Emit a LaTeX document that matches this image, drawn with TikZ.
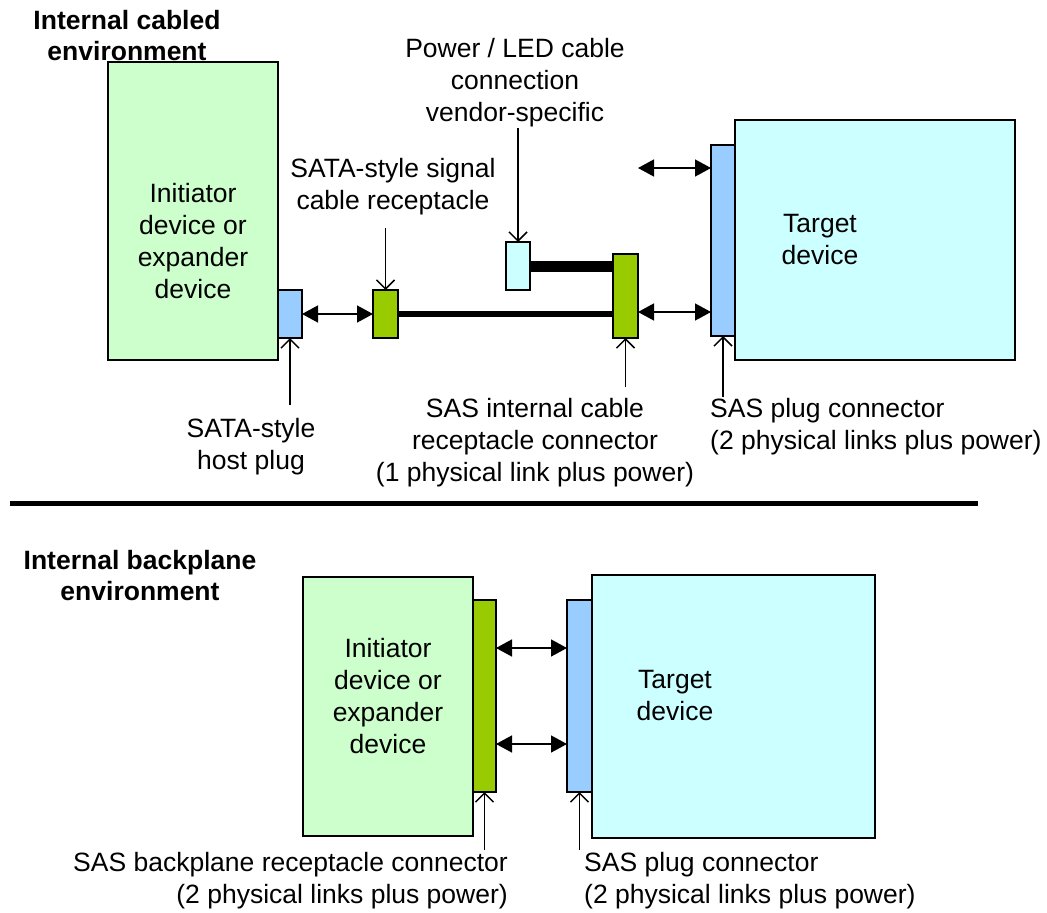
\documentclass[tikz,border=0pt]{standalone}
\usepackage{fontspec}
\setmainfont{Liberation Sans}
\usetikzlibrary{arrows.meta}
\definecolor{initg}{HTML}{CCFFCC}
\definecolor{targc}{HTML}{CCFFFF}
\definecolor{plugb}{HTML}{99CCFF}
\definecolor{recg}{HTML}{99CC00}
\begin{document}
\begin{tikzpicture}[x=1pt,y=-1pt,
  blk/.style={draw=black,line width=1.5pt,inner sep=0pt,outer sep=0pt,anchor=north west},
  lbl/.style={inner sep=0pt,align=center,font=\fontsize{26.5}{32}\selectfont},
  ttl/.style={inner sep=0pt,align=center,font=\fontsize{26.5}{31}\selectfont\bfseries},
  dbl/.style={line width=1.5pt,{Triangle[length=16pt,width=17pt]}-{Triangle[length=16pt,width=17pt]}},
  ptr/.style={line width=1.5pt,-{Straight Barb[length=9pt,width=18pt]}},
]
\useasboundingbox (0,0) rectangle (1047,913);

% ---------- top: cabled ----------
\node[blk,fill=initg,minimum width=170pt,minimum height=298pt] (init1) at (108,62) {};
\node[blk,fill=targc,minimum width=280pt,minimum height=240pt] (target1) at (735,120) {};
\node[blk,fill=plugb,minimum width=24pt,minimum height=48pt] (hostplug) at (278,290) {};
\node[blk,fill=recg,minimum width=25pt,minimum height=48pt] (satarec) at (373,290) {};
\node[blk,fill=recg,minimum width=25pt,minimum height=84pt] (sasrec) at (613,254) {};
\node[blk,fill=targc,minimum width=24pt,minimum height=48pt] (pwr) at (506,242) {};
\node[blk,fill=plugb,minimum width=24pt,minimum height=191pt] (sasplug) at (711,145) {};

\draw[line width=6pt] (satarec.east) -- (satarec.east -| sasrec.west);
\draw[line width=11pt] (pwr.east) -- (pwr.east -| sasrec.west);
\draw[dbl] (hostplug.east) -- (satarec.west);
\coordinate (r1) at (0,312);
\draw[dbl] (sasrec.east |- r1) -- (sasplug.west |- r1);
\coordinate (u1) at (638,168);
\draw[dbl] (u1) -- (sasplug.west |- u1);

\node[ttl,anchor=north] (title1) at (127,10) {Internal cabled\\environment};
\node[lbl,anchor=north] (pwrlbl) at (515,38) {Power / LED cable\\connection\\vendor-specific};
\node[lbl,anchor=north] (satalbl) at (393,158) {SATA-style signal\\cable receptacle};
\node[lbl,anchor=north] (init1t) at (193,183) {Initiator\\device or\\expander\\device};
\node[lbl,anchor=north] (target1t) at (820,214) {Target\\device};
\node[lbl,anchor=north] (hostlbl) at (251,418) {SATA-style\\host plug};
\node[lbl,anchor=north] (sasintlbl) at (535,398) {SAS internal cable\\receptacle connector\\(1 physical link plus power)};
\node[lbl,anchor=north west,align=left] (plug1lbl) at (710,398) {SAS plug connector\\(2 physical links plus power)};

\coordinate (p1) at (0,228);
\draw[ptr] (satarec.north |- p1) -- (satarec.north);
\coordinate (p2) at (0,128);
\draw[ptr] (pwr.north |- p2) -- (pwr.north);
\coordinate (p3) at (0,405);
\draw[ptr] (hostplug.south |- p3) -- (hostplug.south);
\coordinate (p4) at (0,387);
\draw[ptr] (sasrec.south |- p4) -- (sasrec.south);
\coordinate (p5) at (0,397);
\draw[ptr] (sasplug.south |- p5) -- (sasplug.south);

% ---------- separator ----------
\coordinate (s1) at (10,503);
\coordinate (s2) at (978,503);
\draw[line width=5pt] (s1) -- (s2);

% ---------- bottom: backplane ----------
\node[blk,fill=initg,minimum width=170pt,minimum height=259pt] (init2) at (303,577) {};
\node[blk,fill=targc,minimum width=283pt,minimum height=263pt] (target2) at (592,575) {};
\node[blk,fill=recg,minimum width=23pt,minimum height=192pt] (bprec) at (473,600) {};
\node[blk,fill=plugb,minimum width=25pt,minimum height=192pt] (plug2) at (567,600) {};

\coordinate (b1) at (0,648);
\coordinate (b2) at (0,744);
\draw[dbl] (bprec.east |- b1) -- (plug2.west |- b1);
\draw[dbl] (bprec.east |- b2) -- (plug2.west |- b2);

\node[ttl,anchor=north] (title2) at (140,550) {Internal backplane\\environment};
\node[lbl,anchor=north] (init2t) at (388,638) {Initiator\\device or\\expander\\device};
\node[lbl,anchor=north] (target2t) at (675,670) {Target\\device};
\node[lbl,anchor=north east,align=right] (bplbl) at (508,852) {SAS backplane receptacle connector\\(2 physical links plus power)};
\node[lbl,anchor=north west,align=left] (plug2lbl) at (584,852) {SAS plug connector\\(2 physical links plus power)};

\coordinate (p6) at (0,850);
\draw[ptr] (bprec.south |- p6) -- (bprec.south);
\draw[ptr] (plug2.south |- p6) -- (plug2.south);
\end{tikzpicture}
\end{document}
